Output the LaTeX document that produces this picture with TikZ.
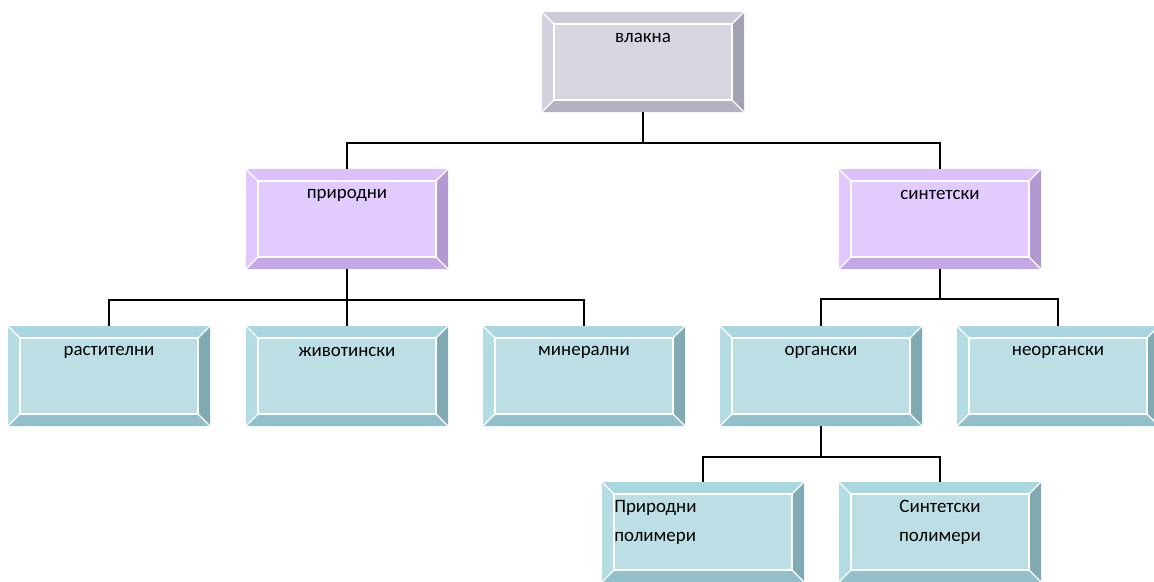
\documentclass[tikz,border=0pt]{standalone}
\usepackage{fontspec}
\setmainfont{Carlito}
\definecolor{gface}{RGB}{214,214,225}
\definecolor{gtop}{RGB}{204,204,217}
\definecolor{gleft}{RGB}{210,210,222}
\definecolor{gbottom}{RGB}{178,178,194}
\definecolor{gright}{RGB}{162,162,178}
\definecolor{pface}{RGB}{226,204,255}
\definecolor{ptop}{RGB}{220,192,250}
\definecolor{pleft}{RGB}{224,200,254}
\definecolor{pbottom}{RGB}{197,166,230}
\definecolor{pright}{RGB}{178,154,208}
\definecolor{tface}{RGB}{187,223,229}
\definecolor{ttop}{RGB}{168,215,223}
\definecolor{tleft}{RGB}{180,221,227}
\definecolor{tbottom}{RGB}{146,191,201}
\definecolor{tright}{RGB}{130,170,178}
\tikzset{
  boxshape/.style={rectangle, minimum width=151.5pt, minimum height=75pt, inner sep=0pt, outer sep=0pt},
  lbl/.style={font=\fontsize{14.2}{21.75}\selectfont, text=black, inner sep=0pt},
  conn/.style={line width=1.2pt, black},
  bev/.style={white, line width=0.9pt}
}
\newcommand\bevbox[5]{%
  \node[boxshape, fill=#4face] (#1) at (#2,#3) {};
  \fill[#4top] (#1.north west) -- (#1.north east) -- ([shift={(-12,12)}]#1.north east) -- ([shift={(12,12)}]#1.north west) -- cycle;
  \fill[#4left] (#1.north west) -- (#1.south west) -- ([shift={(12,-12)}]#1.south west) -- ([shift={(12,12)}]#1.north west) -- cycle;
  \fill[#4bottom] (#1.south west) -- (#1.south east) -- ([shift={(-12,-12)}]#1.south east) -- ([shift={(12,-12)}]#1.south west) -- cycle;
  \fill[#4right] (#1.north east) -- (#1.south east) -- ([shift={(-12,-12)}]#1.south east) -- ([shift={(-12,12)}]#1.north east) -- cycle;
  \draw[bev] ([shift={(12,12)}]#1.north west) rectangle ([shift={(-12,-12)}]#1.south east);
  \draw[bev] (#1.north west) -- ([shift={(12,12)}]#1.north west);
  \draw[bev] (#1.north east) -- ([shift={(-12,12)}]#1.north east);
  \draw[bev] (#1.south west) -- ([shift={(12,-12)}]#1.south west);
  \draw[bev] (#1.south east) -- ([shift={(-12,-12)}]#1.south east);
  \node[lbl] (#1-t) at ([shift={(0,26)}]#1.north) {#5};
}
\begin{document}
\begin{tikzpicture}[x=0.75pt, y=-0.75pt]
\useasboundingbox (0,0) rectangle (1154,582);
\clip (0,0) rectangle (1154,582);
% level 1
\bevbox{vl}{643}{62}{g}{влакна}
% level 2
\bevbox{pr}{347}{219}{p}{природни}
\bevbox{si}{940}{219}{p}{синтетски}
% level 3
\bevbox{ra}{109}{376}{t}{растителни}
\bevbox{zi}{347}{376}{t}{животински}
\bevbox{mi}{584}{376}{t}{минерални}
\bevbox{or}{821}{376}{t}{органски}
\bevbox{ne}{1058}{376}{t}{неоргански}
% level 4
\bevbox{pp}{703}{532}{t}{}
\bevbox{sp}{940}{532}{t}{}
\node[lbl, align=left, anchor=west] (pp-l) at (614,522) {Природни\\полимери};
\node[lbl, align=center] (sp-l) at (940,522) {Синтетски\\полимери};
% junctions
\coordinate (j1) at (643,143);
\coordinate (j2) at (347,300);
\coordinate (j3) at (940,299);
\coordinate (j4) at (821,457);
\draw[conn] (vl.south) -- (j1) -| (pr.north);
\draw[conn] (j1) -| (si.north);
\draw[conn] (pr.south) -- (zi.north);
\draw[conn] (j2) -| (ra.north);
\draw[conn] (j2) -| (mi.north);
\draw[conn] (si.south) -- (j3) -| (or.north);
\draw[conn] (j3) -| (ne.north);
\draw[conn] (or.south) -- (j4) -| (pp.north);
\draw[conn] (j4) -| (sp.north);
\end{tikzpicture}
\end{document}
